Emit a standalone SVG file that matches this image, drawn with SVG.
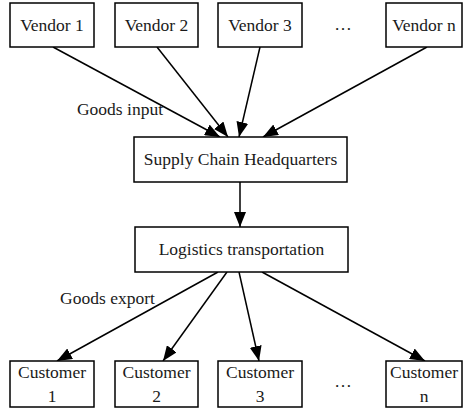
<svg xmlns="http://www.w3.org/2000/svg" width="464" height="409" viewBox="0 0 464 409">
<style>
rect{fill:#fff;stroke:#000;stroke-width:1.5}
text{font-family:"Liberation Serif","Times New Roman",serif;font-size:17.5px;fill:#1a1a1a;text-anchor:middle}
.c line{stroke:#000;stroke-width:1.5;marker-end:url(#ah)}
</style>
<defs>
<marker id="ah" markerUnits="userSpaceOnUse" markerWidth="16" markerHeight="12" refX="15" refY="6" orient="auto">
<path d="M0,0 L15,6 L0,12 z" fill="#000"/>
</marker>
</defs>
<g class="c" id="connectors">
<line x1="53" y1="47" x2="220" y2="137"/>
<line x1="157" y1="47" x2="228" y2="137"/>
<line x1="260" y1="47" x2="239" y2="137"/>
<line x1="427" y1="47" x2="263" y2="137"/>
<line x1="240" y1="182" x2="240" y2="227"/>
<line x1="218" y1="272" x2="57" y2="361"/>
<line x1="227" y1="272" x2="163" y2="361"/>
<line x1="239" y1="272" x2="259" y2="361"/>
<line x1="262" y1="272" x2="425" y2="361"/>
</g>
<g id="v1"><rect x="10" y="3" width="84" height="44"/><text x="52" y="31">Vendor 1</text></g>
<g id="v2"><rect x="115" y="3" width="83" height="44"/><text x="156.5" y="31">Vendor 2</text></g>
<g id="v3"><rect x="218" y="3" width="84" height="44"/><text x="260" y="31">Vendor 3</text></g>
<g id="vdots"><text x="343" y="30">…</text></g>
<g id="vn"><rect x="386" y="3" width="76" height="44"/><text x="424" y="31">Vendor n</text></g>
<g id="lbl-in"><text x="120" y="115">Goods input</text></g>
<g id="hq"><rect x="134" y="137" width="213" height="45"/><text x="240.5" y="165">Supply Chain Headquarters</text></g>
<g id="log"><rect x="135" y="227" width="213" height="45"/><text x="241.5" y="255">Logistics transportation</text></g>
<g id="lbl-out"><text x="107.5" y="304">Goods export</text></g>
<g id="c1"><rect x="10" y="361" width="84" height="46"/><text x="52" y="378">Customer</text><text x="52" y="402">1</text></g>
<g id="c2"><rect x="115" y="361" width="83" height="46"/><text x="156.5" y="378">Customer</text><text x="156.5" y="402">2</text></g>
<g id="c3"><rect x="218" y="361" width="84" height="46"/><text x="260" y="378">Customer</text><text x="260" y="402">3</text></g>
<g id="cdots"><text x="343" y="387">…</text></g>
<g id="cn"><rect x="386" y="361" width="76" height="46"/><text x="424" y="378">Customer</text><text x="424" y="402">n</text></g>
</svg>
